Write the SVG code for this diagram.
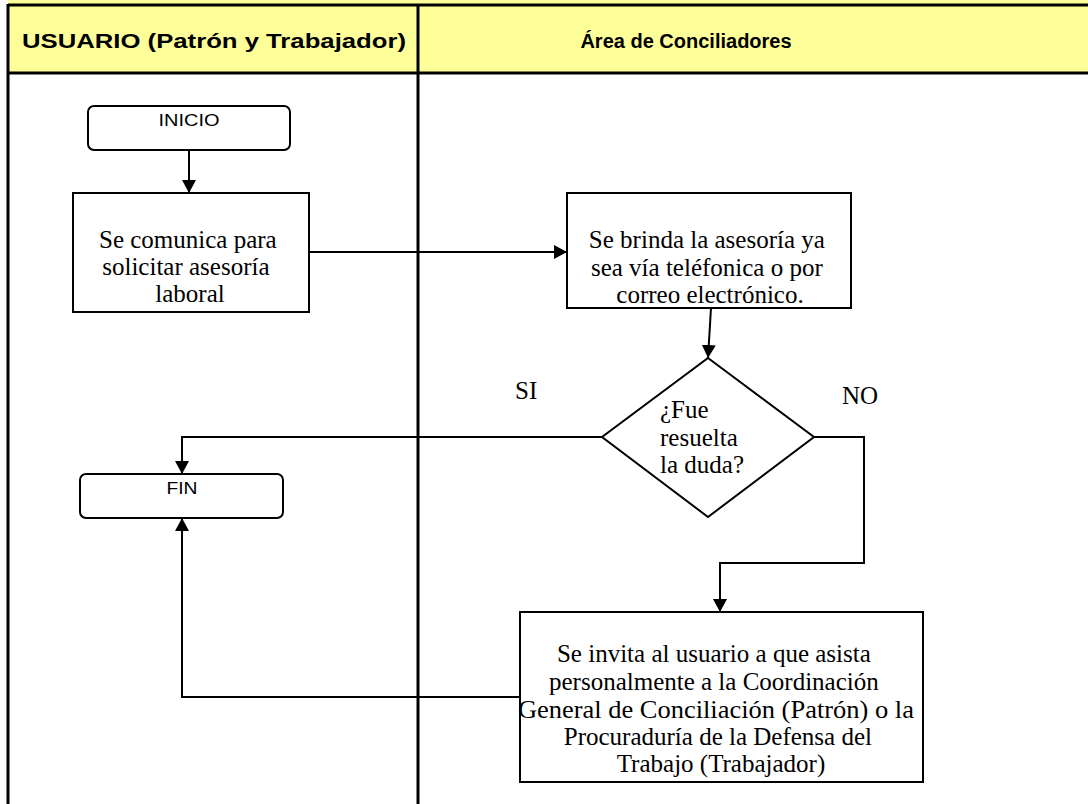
<svg xmlns="http://www.w3.org/2000/svg" width="1088" height="804" viewBox="0 0 1088 804">
<style>
.lane{stroke:#000;stroke-width:3;fill:none}
.box{fill:#fff;stroke:#000;stroke-width:2}
.con{fill:none;stroke:#000;stroke-width:2}
.hdr{font-family:"Liberation Sans",Arial,sans-serif;font-weight:bold;font-size:20px;fill:#000}
.sans{font-family:"Liberation Sans",Arial,sans-serif;font-size:16px;fill:#000}
.serif{font-family:"Liberation Serif","Times New Roman",serif;font-size:25px;fill:#000}
</style>
<defs>
<marker id="arr" markerUnits="userSpaceOnUse" markerWidth="14" markerHeight="14" viewBox="0 0 14 14" refX="13" refY="7" orient="auto">
<path d="M0,0 L13,7 L0,14 Z" fill="#000"/>
</marker>
</defs>
<rect width="1088" height="804" fill="#fff"/>
<g id="lanes">
<rect x="8" y="0" width="1080" height="73" fill="#ffff99"/>
<line class="lane" x1="8" y1="5" x2="1088" y2="5"/>
<line class="lane" x1="8" y1="73" x2="1088" y2="73"/>
<line class="lane" x1="8" y1="4" x2="8" y2="804"/>
<line class="lane" x1="418" y1="4" x2="418" y2="804"/>
<text class="hdr" x="214" y="48" text-anchor="middle" textLength="384" lengthAdjust="spacingAndGlyphs">USUARIO (Patrón y Trabajador)</text>
<text class="hdr" x="686" y="48" text-anchor="middle">Área de Conciliadores</text>
</g>
<g id="connectors">
<path class="con" d="M189,150 V193" marker-end="url(#arr)"/>
<path class="con" d="M309,252 H567" marker-end="url(#arr)"/>
<path class="con" d="M711,308 L708,358" marker-end="url(#arr)"/>
<path class="con" d="M602,437 H182 V474" marker-end="url(#arr)"/>
<path class="con" d="M814,437 H864 V563 H720 V612" marker-end="url(#arr)"/>
<path class="con" d="M520,697 H182 V518" marker-end="url(#arr)"/>
</g>
<g id="inicio">
<rect class="box" x="88" y="106" width="202" height="44" rx="6"/>
<text class="sans" x="189" y="126" text-anchor="middle" textLength="61" lengthAdjust="spacingAndGlyphs">INICIO</text>
</g>
<g id="solicitar">
<rect class="box" x="73" y="193" width="236" height="119"/>
<text class="serif" text-anchor="middle">
<tspan x="191" y="248">Se comunica para</tspan>
<tspan x="189" y="275">solicitar asesoría</tspan>
<tspan x="190" y="302">laboral</tspan>
</text>
</g>
<g id="asesoria">
<rect class="box" x="567" y="193" width="284" height="115"/>
<text class="serif" text-anchor="middle">
<tspan x="710" y="248">Se brinda la asesoría ya</tspan>
<tspan x="710" y="276">sea vía teléfonica o por</tspan>
<tspan x="710" y="303">correo electrónico.</tspan>
</text>
</g>
<g id="decision">
<polygon class="box" points="708,358 814,437 708,517 602,437"/>
<text class="serif">
<tspan x="660" y="418">¿Fue</tspan>
<tspan x="660" y="446">resuelta</tspan>
<tspan x="660" y="473">la duda?</tspan>
</text>
</g>
<g id="labels">
<text class="serif" x="515" y="399" font-size="23">SI</text>
<text class="serif" x="842" y="404" font-size="23">NO</text>
</g>
<g id="fin">
<rect class="box" x="80" y="474" width="203" height="44" rx="6"/>
<text class="sans" x="182" y="494" text-anchor="middle" textLength="31" lengthAdjust="spacingAndGlyphs">FIN</text>
</g>
<g id="invitar">
<rect class="box" x="520" y="612" width="403" height="170"/>
<text class="serif" text-anchor="middle">
<tspan x="717" y="662">Se invita al usuario a que asista</tspan>
<tspan x="717" y="690">personalmente a la Coordinación</tspan>
<tspan x="719" y="718" textLength="396" lengthAdjust="spacingAndGlyphs">General de Conciliación (Patrón) o la</tspan>
<tspan x="721" y="745">Procuraduría de la Defensa del</tspan>
<tspan x="721" y="772">Trabajo (Trabajador)</tspan>
</text>
</g>
</svg>
